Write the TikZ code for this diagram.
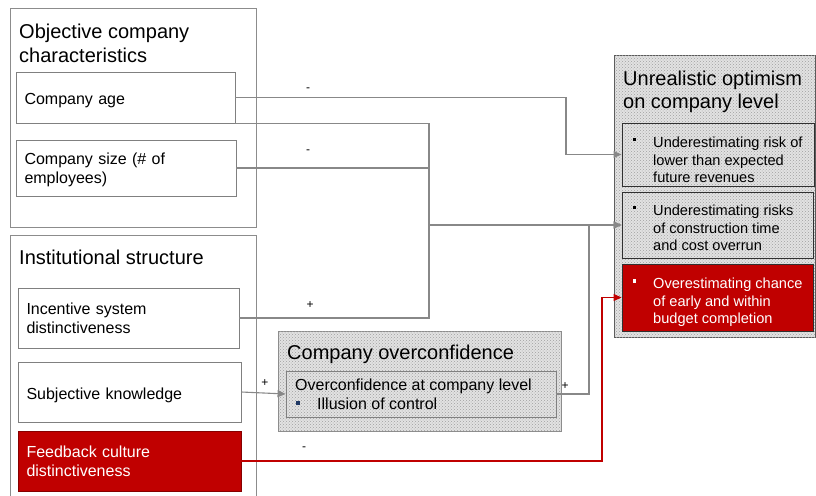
\documentclass[tikz,border=0pt]{standalone}
\usepackage{fontspec}
\setmainfont{Liberation Sans}
\usetikzlibrary{arrows.meta,patterns}

\definecolor{grpgray}{HTML}{8C8C8C}
\definecolor{boxgray}{HTML}{808080}
\definecolor{linegray}{HTML}{888888}
\definecolor{darkedge}{HTML}{303030}
\definecolor{dotbase}{HTML}{E2E2E2}
\definecolor{dotcol}{HTML}{A0A0A0}
\definecolor{brandred}{HTML}{C00000}
\definecolor{bulletblue}{HTML}{1F3864}

\newcommand\fTitle{\fontsize{20}{24}\selectfont}
\newcommand\fBody{\fontsize{16}{19}\selectfont}
\newcommand\fSub{\fontsize{14.6}{17.3}\selectfont}
\newcommand\fSign{\fontsize{12}{14}\selectfont}

\tikzset{
  grpbox/.style={draw=grpgray, line width=0.9pt},
  itembox/.style={draw=boxgray, line width=0.9pt, fill=white, inner sep=0pt,
    align=left, font=\fBody},
  oneline/.style={text height=14pt, text depth=0pt},
  twolines/.style={text height=11.5pt, text depth=19pt},
  redbox/.style={itembox, fill=brandred, text=white},
  dotted fill/.style={fill=dotbase, postaction={pattern=crosshatch dots, pattern color=dotcol}},
  subbox/.style={draw=darkedge, line width=0.9pt, inner sep=0pt},
  titletext/.style={inner sep=0pt, align=left, font=\fTitle},
  subtext/.style={inner sep=0pt, align=left, font=\fSub, anchor=north west},
  sign/.style={inner sep=0pt, font=\fSign},
  conn/.style={draw=linegray, line width=1.1pt},
  arrowconn/.style={conn, -{Triangle[length=8pt,width=7pt]}},
  redconn/.style={draw=brandred, line width=1.1pt, -{Triangle[length=8pt,width=7pt]}},
}

\begin{document}
\begin{tikzpicture}[x=1pt,y=-1pt]
\useasboundingbox (0,0) rectangle (816,495);

% --- left group: objective company characteristics
\draw[grpbox] (10,8) rectangle (256,227);
\node[titletext, anchor=north west] (tobj) at (19,24) {Objective company\\characteristics};
\node[itembox, oneline, minimum width=219pt, minimum height=51pt, text width=202pt] (age) at (125.5,97.5) {Company age};
\node[itembox, twolines, minimum width=220pt, minimum height=56pt, text width=203pt] (size) at (126,168) {Company size (\# of\\employees)};

% --- left group: institutional structure (runs past the lower edge)
\draw[grpbox] (10,500) -- (10,235) -- (256,235) -- (256,500);
\node[titletext, anchor=base west] (tinst) at (19,264) {Institutional structure};
\node[itembox, twolines, minimum width=221pt, minimum height=60pt, text width=204pt] (inc) at (128.5,318) {Incentive system\\distinctiveness};
\node[itembox, oneline, minimum width=223pt, minimum height=60pt, text width=206pt] (subj) at (129.5,392) {Subjective knowledge};
\node[redbox, twolines, draw=brandred!70!black, minimum width=223pt, minimum height=60pt, text width=206pt] (fb) at (129.5,461) {Feedback culture\\distinctiveness};

% --- middle: company overconfidence
\node[draw=grpgray, line width=0.9pt, dotted fill, inner sep=0pt,
      minimum width=283pt, minimum height=100pt] (ocout) at (419.5,381) {};
\node[titletext, anchor=base west] (toc) at (287,359.5) {Company overconfidence};
\node[draw=boxgray, line width=0.9pt, inner sep=0pt,
      minimum width=270pt, minimum height=46pt] (ocin) at (421,394) {};
\node[inner sep=0pt, font=\fBody, anchor=base west] (ocl1) at (295,390) {Overconfidence at company level};
\fill[bulletblue] (296.2,401.2) rectangle (299.8,404.8);
\node[inner sep=0pt, font=\fBody, anchor=base west] (ocl2) at (317,409) {Illusion of control};

% --- right: unrealistic optimism
\node[draw=darkedge!80, line width=0.9pt, dotted fill, inner sep=0pt,
      minimum width=201pt, minimum height=282pt] (urout) at (714.5,196) {};
\node[titletext, anchor=north west, font=\fontsize{20}{23}\selectfont] (tur) at (623,70.4) {Unrealistic optimism\\on company level};
\node[subbox, minimum width=192pt, minimum height=63pt] (ur1) at (718,154.5) {};
\node[subbox, minimum width=191pt, minimum height=66pt] (ur2) at (717.5,225) {};
\node[subbox, fill=brandred, minimum width=191pt, minimum height=67pt] (ur3) at (717.5,297.5) {};

\fill[black] (632.6,137.6) rectangle ++(3.8,3.8);
\node[subtext] (ur1t) at (653,137) {Underestimating risk of\\lower than expected\\future revenues};
\fill[black] (632.6,205.6) rectangle ++(3.8,3.8);
\node[subtext] (ur2t) at (653,205) {Underestimating risks\\of construction time\\and cost overrun};
\fill[white] (632.6,279.0) rectangle ++(3.8,3.8);
\node[subtext, text=white] (ur3t) at (653,278) {Overestimating chance\\of early and within\\budget completion};

% --- turning points of the connectors
\coordinate (xa) at (566,0);
\coordinate (xb) at (429,0);
\coordinate (xc) at (589,0);
\coordinate (xd) at (602,0);

% --- connectors
\draw[arrowconn] (age.east) -- (age.east -| xa) |- (ur1.west);
\draw[arrowconn] (size.east) -- (size.east -| xb) |- (ur2.west);
\draw[conn] (inc.east) -- (inc.east -| xb) |- (age.south east);
\draw[arrowconn] (ocin.east) -- (ocin.east -| xc) |- (ur2.west);
\draw[arrowconn] (subj.east) -- (ocin.west);
\draw[redconn] (fb.east) -- (fb.east -| xd) |- (ur3.west);

% --- signs
\node[sign] (s1) at (308,90) {-};
\node[sign] (s2) at (308,152) {-};
\node[sign] (s3) at (310,305.5) {+};
\node[sign] (s4) at (265,383.5) {+};
\node[sign] (s5) at (565,386) {+};
\node[sign] (s6) at (304,449) {-};
\end{tikzpicture}
\end{document}
